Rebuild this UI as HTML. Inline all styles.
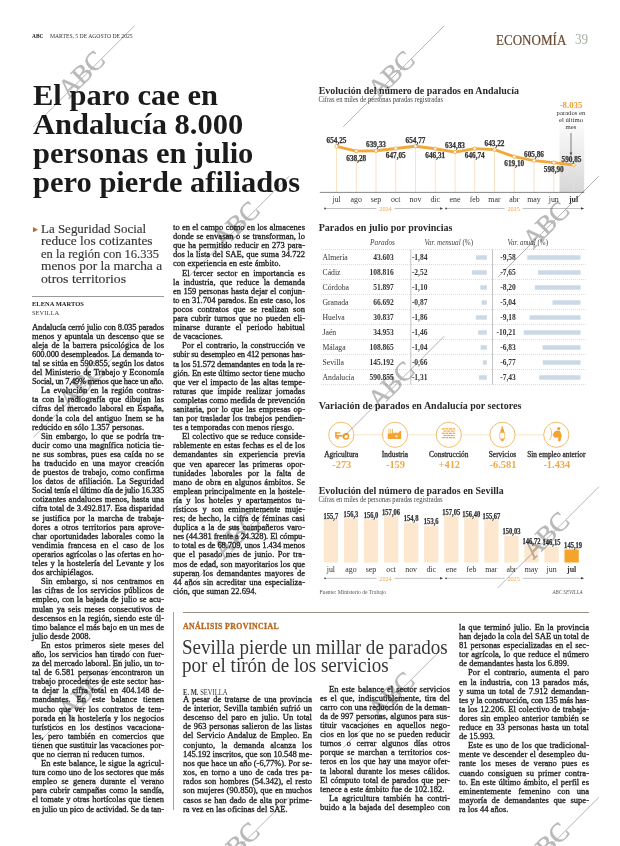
<!DOCTYPE html>
<html><head><meta charset="utf-8"><style>
html,body{margin:0;padding:0}
body{width:620px;height:846px;position:relative;overflow:hidden;background:#fff;font-family:"Liberation Serif",serif;color:#222}
.a{position:absolute;white-space:nowrap}
.col{position:absolute;font-family:"Liberation Serif",serif;color:#1e1e1e;transform-origin:0 0;-webkit-text-stroke:0.32px #1e1e1e}
.col div{white-space:nowrap;text-align:justify;text-align-last:justify;height:auto}
.col div.e{text-align-last:left}
.col div.i{text-indent:9.6px}
.hl{font-weight:bold;font-size:30px;color:#1b1b1b;transform-origin:0 0;transform:scaleX(1.017);line-height:28.95px}
.sub{font-size:13.3px;color:#353535;line-height:12.6px;-webkit-text-stroke:0.15px #353535}

</style></head><body>
<div class="a" style="left:32px;top:33px;font-size:6px;font-weight:bold;color:#222;transform-origin:0 0;transform:scaleX(0.9)">ABC</div>
<div class="a" style="left:50px;top:33px;font-size:6px;color:#333;transform-origin:0 0;transform:scaleX(0.94)">MARTES, 5 DE AGOSTO DE 2025</div>
<div class="a" style="left:495.5px;top:31.8px;font-size:14.5px;color:#694a30;transform-origin:0 0;transform:scaleX(0.9);-webkit-text-stroke:0.2px #694a30">ECONOMÍA</div>
<div class="a" style="left:574.8px;top:31.3px;font-size:14.7px;color:#a9b0a0;transform-origin:0 0;transform:scaleX(0.9)">39</div>

<div class="a hl" style="left:33px;top:81px">El paro cae en<br>Andalucía 8.000<br>personas en julio<br>pero pierde afiliados</div>

<svg class="a" style="left:32.6px;top:226.6px" width="5" height="5.4"><path d="M0,0 L5,2.7 L0,5.4 Z" fill="#b86f35"/></svg>
<div class="a sub" style="left:41.2px;top:222.51px;transform-origin:0 0;transform:scaleX(0.975)">La Seguridad Social</div>
<div class="a sub" style="left:41.2px;top:235.21px;transform-origin:0 0;transform:scaleX(1.0075)">reduce los cotizantes</div>
<div class="a sub" style="left:41.2px;top:247.91px;transform-origin:0 0;transform:scaleX(0.943)">en la región con 16.335</div>
<div class="a sub" style="left:41.2px;top:260.41px;transform-origin:0 0;transform:scaleX(1.006)">menos por la marcha a</div>
<div class="a sub" style="left:41.2px;top:272.81px;transform-origin:0 0;transform:scaleX(1.032)">otros territorios</div>
<div class="a" style="left:32px;top:296px;width:132px;height:1px;background:#9a9a9a"></div>
<div class="a" style="left:32px;top:300px;font-size:6.5px;font-weight:bold;color:#222;letter-spacing:0px">ELENA MARTOS</div>
<div class="a" style="left:32px;top:309px;font-size:6.5px;color:#444;letter-spacing:0px">SEVILLA</div>
<div class="col" style="left:32px;top:322.60px;width:138.95px;transform:scaleX(0.95);line-height:9.09px;font-size:9.0px">
<div style="letter-spacing:-0.157px">Andalucía cerró julio con 8.035 parados</div>
<div>menos y apuntala un descenso que se</div>
<div>aleja de la barrera psicológica de los</div>
<div style="letter-spacing:-0.128px">600.000 desempleados. La demanda to-</div>
<div style="letter-spacing:-0.035px">tal se sitúa en 590.855, según los datos</div>
<div>del Ministerio de Trabajo y Economía</div>
<div class="e" style="letter-spacing:-0.298px">Social, un 7,49% menos que hace un año.</div>
<div class="i">La evolución en la región contras-</div>
<div>ta con la radiografía que dibujan las</div>
<div>cifras del mercado laboral en España,</div>
<div>donde la cola del antiguo Inem se ha</div>
<div class="e">reducido en sólo 1.357 personas.</div>
<div class="i">Sin embargo, lo que se podría tra-</div>
<div>ducir como una magnífica noticia tie-</div>
<div>ne sus sombras, pues esa caída no se</div>
<div>ha traducido en una mayor creación</div>
<div>de puestos de trabajo, como confirma</div>
<div>los datos de afiliación. La Seguridad</div>
<div style="letter-spacing:-0.194px">Social tenía el último día de julio 16.335</div>
<div>cotizantes andaluces menos, hasta una</div>
<div style="letter-spacing:-0.066px">cifra total de 3.492.817. Esa disparidad</div>
<div>se justifica por la marcha de trabaja-</div>
<div>dores a otros territorios para aprove-</div>
<div>char oportunidades laborales como la</div>
<div>vendimia francesa en el caso de los</div>
<div style="letter-spacing:-0.015px">operarios agrícolas o las ofertas en ho-</div>
<div>teles y la hostelería del Levante y los</div>
<div class="e">dos archipiélagos.</div>
<div class="i">Sin embargo, si nos centramos en</div>
<div>las cifras de los servicios públicos de</div>
<div>empleo, con la bajada de julio se acu-</div>
<div>mulan ya seis meses consecutivos de</div>
<div>descensos en la región, siendo este úl-</div>
<div style="letter-spacing:-0.017px">timo balance el más bajo en un mes de</div>
<div class="e">julio desde 2008.</div>
<div class="i">En estos primeros siete meses del</div>
<div>año, los servicios han tirado con fuer-</div>
<div style="letter-spacing:-0.059px">za del mercado laboral. En julio, un to-</div>
<div>tal de 6.581 personas encontraron un</div>
<div>trabajo procedentes de este sector has-</div>
<div>ta dejar la cifra total en 404.148 de-</div>
<div>mandantes. En este balance tienen</div>
<div>mucho que ver los contratos de tem-</div>
<div>porada en la hostelería y los negocios</div>
<div>turísticos en los destinos vacaciona-</div>
<div>les, pero también en comercios que</div>
<div style="letter-spacing:-0.030px">tienen que sustituir las vacaciones por-</div>
<div class="e">que no cierran ni reducen turnos.</div>
<div class="i">En este balance, le sigue la agricul-</div>
<div style="letter-spacing:-0.010px">tura como uno de los sectores que más</div>
<div>empleo se genera durante el verano</div>
<div>para cubrir campañas como la sandía,</div>
<div>el tomate y otras hortícolas que tienen</div>
<div style="letter-spacing:-0.107px">en julio un pico de actividad. Se da tan-</div>
</div>
<div class="col" style="left:173px;top:223.10px;width:138.95px;transform:scaleX(0.95);line-height:9.1px;font-size:9.0px">
<div>to en el campo como en los almacenes</div>
<div>donde se envasan o se transforman, lo</div>
<div>que ha permitido reducir en 273 para-</div>
<div>dos la lista del SAE, que suma 34.722</div>
<div class="e">con experiencia en este ámbito.</div>
<div class="i">El tercer sector en importancia es</div>
<div>la industria, que reduce la demanda</div>
<div>en 159 personas hasta dejar el conjun-</div>
<div style="letter-spacing:-0.016px">to en 31.704 parados. En este caso, los</div>
<div>pocos contratos que se realizan son</div>
<div>para cubrir turnos que no pueden eli-</div>
<div>minarse durante el periodo habitual</div>
<div class="e">de vacaciones.</div>
<div class="i">Por el contrario, la construcción ve</div>
<div style="letter-spacing:-0.209px">subir su desempleo en 412 personas has-</div>
<div style="letter-spacing:-0.166px">ta los 51.572 demandantes en toda la re-</div>
<div style="letter-spacing:-0.112px">gión. En este último sector tiene mucho</div>
<div>que ver el impacto de las altas tempe-</div>
<div>raturas que impide realizar jornadas</div>
<div style="letter-spacing:-0.060px">completas como medida de prevención</div>
<div>sanitaria, por lo que las empresas op-</div>
<div>tan por trasladar los trabajos pendien-</div>
<div class="e">tes a temporadas con menos riesgo.</div>
<div class="i">El colectivo que se reduce conside-</div>
<div>rablemente en estas fechas es el de los</div>
<div>demandantes sin experiencia previa</div>
<div>que ven aparecer las primeras opor-</div>
<div>tunidades laborales por la falta de</div>
<div>mano de obra en algunos ámbitos. Se</div>
<div>emplean principalmente en la hostele-</div>
<div>ría y los hoteles y apartamentos tu-</div>
<div>rísticos y son eminentemente muje-</div>
<div>res; de hecho, la cifra de féminas casi</div>
<div>duplica a la de sus compañeros varo-</div>
<div style="letter-spacing:-0.138px">nes (44.381 frente a 24.328). El cómpu-</div>
<div style="letter-spacing:-0.106px">to total es de 68.709, unos 1.434 menos</div>
<div>que el pasado mes de junio. Por tra-</div>
<div>mos de edad, son mayoritarios los que</div>
<div>superan los demandantes mayores de</div>
<div>44 años sin acreditar una especializa-</div>
<div class="e">ción, que suman 22.694.</div>
</div>

<div class="a" style="left:173px;top:612px;width:1px;height:198px;background:#a0a0a0"></div>
<div class="a" style="left:182.5px;top:612px;width:406px;height:1px;background:#9a9088"></div>
<div class="a" style="left:183px;top:620.6px;font-size:9px;font-weight:bold;color:#b96a22;letter-spacing:0.4px;transform-origin:0 0;transform:scaleX(0.87);-webkit-text-stroke:0.35px #b96a22">ANÁLISIS PROVINCIAL</div>
<div class="a" style="left:182px;top:637.5px;font-size:21px;line-height:18.5px;color:#383838;transform-origin:0 0;transform:scaleX(0.906)">Sevilla pierde un millar de parados<br>por el tirón de los servicios</div>
<div class="a" style="left:183px;top:687.7px;font-size:8px;color:#333;transform-origin:0 0;transform:scaleX(0.82)"><b>E. M.</b> SEVILLA</div>
<div class="col" style="left:183px;top:694.70px;width:135.79px;transform:scaleX(0.95);line-height:9.17px;font-size:9.0px">
<div>A pesar de tratarse de una provincia</div>
<div>de interior, Sevilla también sufrió un</div>
<div>descenso del paro en julio. Un total</div>
<div>de 963 personas salieron de las listas</div>
<div>del Servicio Andaluz de Empleo. En</div>
<div>conjunto, la demanda alcanza los</div>
<div style="letter-spacing:-0.062px">145.192 inscritos, que son 10.548 me-</div>
<div style="letter-spacing:-0.055px">nos que hace un año (-6,77%). Por se-</div>
<div>xos, en torno a uno de cada tres pa-</div>
<div>rados son hombres (54.342), el resto</div>
<div>son mujeres (90.850), que en muchos</div>
<div>casos se han dado de alta por prime-</div>
<div class="e">ra vez en las oficinas del SAE.</div>
</div>
<div class="col" style="left:320px;top:684.70px;width:136.84px;transform:scaleX(0.95);line-height:9.09px;font-size:9.0px">
<div class="i">En este balance el sector servicios</div>
<div>es el que, indiscutiblemente, tira del</div>
<div>carro con una reducción de la deman-</div>
<div>da de 997 personas, algunos para sus-</div>
<div>tituir vacaciones en aquellos nego-</div>
<div>cios en los que no se pueden reducir</div>
<div>turnos o cerrar algunos días otros</div>
<div>porque se marchan a territorios cos-</div>
<div>teros en los que hay una mayor ofer-</div>
<div>ta laboral durante los meses cálidos.</div>
<div>El cómputo total de parados que per-</div>
<div class="e">tenece a este ámbito fue de 102.182.</div>
<div class="i">La agricultura también ha contri-</div>
<div>buido a la bajada del desempleo con</div>
</div>
<div class="col" style="left:459px;top:623.00px;width:136.84px;transform:scaleX(0.95);line-height:9.1px;font-size:9.0px">
<div>la que terminó julio. En la provincia</div>
<div style="letter-spacing:-0.045px">han dejado la cola del SAE un total de</div>
<div>81 personas especializadas en el sec-</div>
<div>tor agrícola, lo que reduce el número</div>
<div class="e">de demandantes hasta los 6.899.</div>
<div class="i">Por el contrario, aumenta el paro</div>
<div>en la industria, con 13 parados más,</div>
<div>y suma un total de 7.912 demandan-</div>
<div style="letter-spacing:-0.121px">tes y la construcción, con 135 más has-</div>
<div>ta los 12.206. El colectivo de trabaja-</div>
<div>dores sin empleo anterior también se</div>
<div>reduce en 33 personas hasta un total</div>
<div class="e">de 15.993.</div>
<div class="i">Este es uno de los que tradicional-</div>
<div>mente ve descender el desempleo du-</div>
<div>rante los meses de verano pues es</div>
<div>cuando consiguen su primer contra-</div>
<div>to. En este último ámbito, el perfil es</div>
<div>eminentemente femenino con una</div>
<div>mayoría de demandantes que supe-</div>
<div class="e">ra los 44 años.</div>
</div>

<svg class="a" style="left:0;top:0" width="620" height="846" viewBox="0 0 620 846">
<defs><linearGradient id="hg" x1="0" y1="0" x2="0" y2="1"><stop offset="0" stop-color="#ffffff"/><stop offset="0.3" stop-color="#fbfbfb"/><stop offset="0.6" stop-color="#ececec"/><stop offset="1" stop-color="#d6d6d6"/></linearGradient></defs>
<text x="318.7" y="94" font-family="Liberation Serif" font-weight="bold" font-size="10.2" fill="#2a2a2a" lengthAdjust="spacingAndGlyphs" textLength="200.3">Evolución del número de parados en Andalucía</text>
<text x="318.5" y="102.2" font-family="Liberation Serif" font-size="7.4" fill="#444" lengthAdjust="spacingAndGlyphs" textLength="124.5">Cifras en miles de personas paradas registradas</text>
<rect x="559.5" y="95" width="24.7" height="97.5" fill="url(#hg)"/>
<line x1="336.50" y1="146.40" x2="336.50" y2="192.4" stroke="#f7dcb4" stroke-width="0.8"/>
<line x1="356.25" y1="151.08" x2="356.25" y2="192.4" stroke="#f7dcb4" stroke-width="0.8"/>
<line x1="376.00" y1="150.77" x2="376.00" y2="192.4" stroke="#f7dcb4" stroke-width="0.8"/>
<line x1="395.75" y1="148.51" x2="395.75" y2="192.4" stroke="#f7dcb4" stroke-width="0.8"/>
<line x1="415.50" y1="146.25" x2="415.50" y2="192.4" stroke="#f7dcb4" stroke-width="0.8"/>
<line x1="435.25" y1="148.73" x2="435.25" y2="192.4" stroke="#f7dcb4" stroke-width="0.8"/>
<line x1="455.00" y1="152.09" x2="455.00" y2="192.4" stroke="#f7dcb4" stroke-width="0.8"/>
<line x1="474.75" y1="148.60" x2="474.75" y2="192.4" stroke="#f7dcb4" stroke-width="0.8"/>
<line x1="494.50" y1="149.63" x2="494.50" y2="192.4" stroke="#f7dcb4" stroke-width="0.8"/>
<line x1="514.25" y1="156.70" x2="514.25" y2="192.4" stroke="#f7dcb4" stroke-width="0.8"/>
<line x1="534.00" y1="160.58" x2="534.00" y2="192.4" stroke="#f7dcb4" stroke-width="0.8"/>
<line x1="553.75" y1="162.62" x2="553.75" y2="192.4" stroke="#f7dcb4" stroke-width="0.8"/>
<line x1="573.50" y1="164.98" x2="573.50" y2="192.4" stroke="#f7dcb4" stroke-width="0.8"/>
<line x1="319.8" y1="192.4" x2="584.2" y2="192.4" stroke="#7a7a7a" stroke-width="0.9"/>
<polyline points="336.50,146.40 356.25,151.08 376.00,150.77 395.75,148.51 415.50,146.25 435.25,148.73 455.00,152.09 474.75,148.60 494.50,149.63 514.25,156.70 534.00,160.58 553.75,162.62 573.50,164.98" fill="none" stroke="#f2a93b" stroke-width="2.9" stroke-linejoin="round"/>
<circle cx="336.50" cy="146.40" r="1.7" fill="#fff" stroke="#f2a93b" stroke-width="0.8"/>
<circle cx="356.25" cy="151.08" r="1.7" fill="#fff" stroke="#f2a93b" stroke-width="0.8"/>
<circle cx="376.00" cy="150.77" r="1.7" fill="#fff" stroke="#f2a93b" stroke-width="0.8"/>
<circle cx="395.75" cy="148.51" r="1.7" fill="#fff" stroke="#f2a93b" stroke-width="0.8"/>
<circle cx="415.50" cy="146.25" r="1.7" fill="#fff" stroke="#f2a93b" stroke-width="0.8"/>
<circle cx="435.25" cy="148.73" r="1.7" fill="#fff" stroke="#f2a93b" stroke-width="0.8"/>
<circle cx="455.00" cy="152.09" r="1.7" fill="#fff" stroke="#f2a93b" stroke-width="0.8"/>
<circle cx="474.75" cy="148.60" r="1.7" fill="#fff" stroke="#f2a93b" stroke-width="0.8"/>
<circle cx="494.50" cy="149.63" r="1.7" fill="#fff" stroke="#f2a93b" stroke-width="0.8"/>
<circle cx="514.25" cy="156.70" r="1.7" fill="#fff" stroke="#f2a93b" stroke-width="0.8"/>
<circle cx="534.00" cy="160.58" r="1.7" fill="#fff" stroke="#f2a93b" stroke-width="0.8"/>
<circle cx="553.75" cy="162.62" r="1.7" fill="#fff" stroke="#f2a93b" stroke-width="0.8"/>
<circle cx="573.50" cy="164.98" r="1.7" fill="#fff" stroke="#f2a93b" stroke-width="0.8"/>
<text x="326.50" y="142.80" font-family="Liberation Serif" font-weight="bold" font-size="7.6" fill="#333" stroke="#333" stroke-width="0.25" lengthAdjust="spacingAndGlyphs" textLength="20">654,25</text>
<text x="336.50" y="201.6" font-family="Liberation Serif" font-size="7.9" fill="#333" text-anchor="middle">jul</text>
<text x="346.25" y="160.68" font-family="Liberation Serif" font-weight="bold" font-size="7.6" fill="#333" stroke="#333" stroke-width="0.25" lengthAdjust="spacingAndGlyphs" textLength="20">638,28</text>
<text x="356.25" y="201.6" font-family="Liberation Serif" font-size="7.9" fill="#333" text-anchor="middle">ago</text>
<text x="366.00" y="147.17" font-family="Liberation Serif" font-weight="bold" font-size="7.6" fill="#333" stroke="#333" stroke-width="0.25" lengthAdjust="spacingAndGlyphs" textLength="20">639,33</text>
<text x="376.00" y="201.6" font-family="Liberation Serif" font-size="7.9" fill="#333" text-anchor="middle">sep</text>
<text x="385.75" y="158.11" font-family="Liberation Serif" font-weight="bold" font-size="7.6" fill="#333" stroke="#333" stroke-width="0.25" lengthAdjust="spacingAndGlyphs" textLength="20">647,05</text>
<text x="395.75" y="201.6" font-family="Liberation Serif" font-size="7.9" fill="#333" text-anchor="middle">oct</text>
<text x="405.50" y="142.65" font-family="Liberation Serif" font-weight="bold" font-size="7.6" fill="#333" stroke="#333" stroke-width="0.25" lengthAdjust="spacingAndGlyphs" textLength="20">654,77</text>
<text x="415.50" y="201.6" font-family="Liberation Serif" font-size="7.9" fill="#333" text-anchor="middle">nov</text>
<text x="425.25" y="158.33" font-family="Liberation Serif" font-weight="bold" font-size="7.6" fill="#333" stroke="#333" stroke-width="0.25" lengthAdjust="spacingAndGlyphs" textLength="20">646,31</text>
<text x="435.25" y="201.6" font-family="Liberation Serif" font-size="7.9" fill="#333" text-anchor="middle">dic</text>
<text x="445.00" y="148.49" font-family="Liberation Serif" font-weight="bold" font-size="7.6" fill="#333" stroke="#333" stroke-width="0.25" lengthAdjust="spacingAndGlyphs" textLength="20">634,83</text>
<text x="455.00" y="201.6" font-family="Liberation Serif" font-size="7.9" fill="#333" text-anchor="middle">ene</text>
<text x="464.75" y="158.20" font-family="Liberation Serif" font-weight="bold" font-size="7.6" fill="#333" stroke="#333" stroke-width="0.25" lengthAdjust="spacingAndGlyphs" textLength="20">646,74</text>
<text x="474.75" y="201.6" font-family="Liberation Serif" font-size="7.9" fill="#333" text-anchor="middle">feb</text>
<text x="484.50" y="146.03" font-family="Liberation Serif" font-weight="bold" font-size="7.6" fill="#333" stroke="#333" stroke-width="0.25" lengthAdjust="spacingAndGlyphs" textLength="20">643,22</text>
<text x="494.50" y="201.6" font-family="Liberation Serif" font-size="7.9" fill="#333" text-anchor="middle">mar</text>
<text x="504.25" y="166.30" font-family="Liberation Serif" font-weight="bold" font-size="7.6" fill="#333" stroke="#333" stroke-width="0.25" lengthAdjust="spacingAndGlyphs" textLength="20">619,10</text>
<text x="514.25" y="201.6" font-family="Liberation Serif" font-size="7.9" fill="#333" text-anchor="middle">abr</text>
<text x="524.00" y="156.98" font-family="Liberation Serif" font-weight="bold" font-size="7.6" fill="#333" stroke="#333" stroke-width="0.25" lengthAdjust="spacingAndGlyphs" textLength="20">605,86</text>
<text x="534.00" y="201.6" font-family="Liberation Serif" font-size="7.9" fill="#333" text-anchor="middle">may</text>
<text x="543.75" y="172.22" font-family="Liberation Serif" font-weight="bold" font-size="7.6" fill="#333" stroke="#333" stroke-width="0.25" lengthAdjust="spacingAndGlyphs" textLength="20">598,90</text>
<text x="553.75" y="201.6" font-family="Liberation Serif" font-size="7.9" fill="#333" text-anchor="middle">jun</text>
<text x="561.50" y="162.38" font-family="Liberation Serif" font-weight="bold" font-size="7.6" fill="#333" stroke="#333" stroke-width="0.25" lengthAdjust="spacingAndGlyphs" textLength="20">590,85</text>
<text x="573.50" y="201.6" font-family="Liberation Serif" font-size="7.9" fill="#333" text-anchor="middle" font-weight="bold">jul</text>
<line x1="325" y1="208.5" x2="442" y2="208.5" stroke="#8a8a8a" stroke-width="0.55"/>
<circle cx="325" cy="208.5" r="0.9" fill="#444"/>
<path d="M443.2,208.5 L440,207.2 L440,209.8 Z" fill="#444"/>
<rect x="376.5" y="205.5" width="18" height="6" fill="#fff"/>
<text x="385.5" y="210.7" font-family="Liberation Serif" font-size="6.2" fill="#f0a540" text-anchor="middle">2024</text>
<line x1="446" y1="208.5" x2="583" y2="208.5" stroke="#8a8a8a" stroke-width="0.55"/>
<circle cx="446" cy="208.5" r="0.9" fill="#444"/>
<path d="M584.2,208.5 L581,207.2 L581,209.8 Z" fill="#444"/>
<rect x="504.6" y="205.5" width="18" height="6" fill="#fff"/>
<text x="513.6" y="210.7" font-family="Liberation Serif" font-size="6.2" fill="#f0a540" text-anchor="middle">2025</text>
<text x="571" y="108.2" font-family="Liberation Serif" font-weight="bold" font-size="8.8" fill="#eea33a" text-anchor="middle">-8.035</text>
<text x="571" y="115.4" font-family="Liberation Serif" font-size="6.7" fill="#333" text-anchor="middle">parados en</text>
<text x="571" y="122.0" font-family="Liberation Serif" font-size="6.7" fill="#333" text-anchor="middle">el último</text>
<text x="571" y="128.6" font-family="Liberation Serif" font-size="6.7" fill="#333" text-anchor="middle">mes</text>
<line x1="571" y1="133" x2="571" y2="154" stroke="#555" stroke-width="0.75"/>
<path d="M571,156 L569.6,152.6 L572.4,152.6 Z" fill="#555"/>
<text x="318.7" y="230.6" font-family="Liberation Serif" font-weight="bold" font-size="10.2" fill="#2a2a2a" lengthAdjust="spacingAndGlyphs" textLength="133.8">Parados en julio por provincias</text>
<text x="370" y="245.2" font-family="Liberation Serif" font-style="italic" font-size="7.6" fill="#444" lengthAdjust="spacingAndGlyphs" textLength="25">Parados</text>
<text x="424.5" y="245.2" font-family="Liberation Serif" font-size="7.6" fill="#444" lengthAdjust="spacingAndGlyphs" textLength="48.5"><tspan font-style="italic">Var. mensual</tspan> (%)</text>
<text x="507.5" y="245.2" font-family="Liberation Serif" font-size="7.6" fill="#444" lengthAdjust="spacingAndGlyphs" textLength="40.5"><tspan font-style="italic">Var. anual</tspan> (%)</text>
<line x1="321" y1="249.5" x2="586" y2="249.5" stroke="#d6d6d6" stroke-width="0.8" stroke-dasharray="1,1"/>
<line x1="321" y1="264.5" x2="586" y2="264.5" stroke="#d6d6d6" stroke-width="0.8" stroke-dasharray="1,1"/>
<line x1="321" y1="279.5" x2="586" y2="279.5" stroke="#d6d6d6" stroke-width="0.8" stroke-dasharray="1,1"/>
<line x1="321" y1="294.5" x2="586" y2="294.5" stroke="#d6d6d6" stroke-width="0.8" stroke-dasharray="1,1"/>
<line x1="321" y1="309.5" x2="586" y2="309.5" stroke="#d6d6d6" stroke-width="0.8" stroke-dasharray="1,1"/>
<line x1="321" y1="324.5" x2="586" y2="324.5" stroke="#d6d6d6" stroke-width="0.8" stroke-dasharray="1,1"/>
<line x1="321" y1="339.5" x2="586" y2="339.5" stroke="#d6d6d6" stroke-width="0.8" stroke-dasharray="1,1"/>
<line x1="321" y1="354.5" x2="586" y2="354.5" stroke="#d6d6d6" stroke-width="0.8" stroke-dasharray="1,1"/>
<line x1="321" y1="369.5" x2="586" y2="369.5" stroke="#d6d6d6" stroke-width="0.8" stroke-dasharray="1,1"/>
<line x1="321" y1="384.5" x2="586" y2="384.5" stroke="#d6d6d6" stroke-width="0.8" stroke-dasharray="1,1"/>
<line x1="410.8" y1="249.5" x2="410.8" y2="384.5" stroke="#9a9a9a" stroke-width="0.6"/>
<line x1="492.5" y1="249.5" x2="492.5" y2="384.5" stroke="#9a9a9a" stroke-width="0.6"/>
<text x="322.5" y="260.1" font-family="Liberation Serif" font-size="7.7" fill="#333">Almería</text>
<text x="393.8" y="260.0" font-family="Liberation Serif" font-weight="bold" font-size="7.5" fill="#333" text-anchor="end">43.603</text>
<text x="427.5" y="260.0" font-family="Liberation Serif" font-weight="bold" font-size="7.5" fill="#333" text-anchor="end">-1,84</text>
<text x="515.8" y="260.0" font-family="Liberation Serif" font-weight="bold" font-size="7.5" fill="#333" text-anchor="end">-9,58</text>
<rect x="475.94" y="255.30" width="10.86" height="4.4" fill="#cbd8e6"/>
<rect x="527.24" y="255.30" width="53.26" height="4.4" fill="#cbd8e6"/>
<text x="322.5" y="275.1" font-family="Liberation Serif" font-size="7.7" fill="#333">Cádiz</text>
<text x="393.8" y="275.0" font-family="Liberation Serif" font-weight="bold" font-size="7.5" fill="#333" text-anchor="end">108.816</text>
<text x="427.5" y="275.0" font-family="Liberation Serif" font-weight="bold" font-size="7.5" fill="#333" text-anchor="end">-2,52</text>
<text x="515.8" y="275.0" font-family="Liberation Serif" font-weight="bold" font-size="7.5" fill="#333" text-anchor="end">-7,65</text>
<rect x="471.93" y="270.30" width="14.87" height="4.4" fill="#cbd8e6"/>
<rect x="537.97" y="270.30" width="42.53" height="4.4" fill="#cbd8e6"/>
<text x="322.5" y="290.1" font-family="Liberation Serif" font-size="7.7" fill="#333">Córdoba</text>
<text x="393.8" y="290.0" font-family="Liberation Serif" font-weight="bold" font-size="7.5" fill="#333" text-anchor="end">51.897</text>
<text x="427.5" y="290.0" font-family="Liberation Serif" font-weight="bold" font-size="7.5" fill="#333" text-anchor="end">-1,10</text>
<text x="515.8" y="290.0" font-family="Liberation Serif" font-weight="bold" font-size="7.5" fill="#333" text-anchor="end">-8,20</text>
<rect x="480.31" y="285.30" width="6.49" height="4.4" fill="#cbd8e6"/>
<rect x="534.91" y="285.30" width="45.59" height="4.4" fill="#cbd8e6"/>
<text x="322.5" y="305.1" font-family="Liberation Serif" font-size="7.7" fill="#333">Granada</text>
<text x="393.8" y="305.0" font-family="Liberation Serif" font-weight="bold" font-size="7.5" fill="#333" text-anchor="end">66.692</text>
<text x="427.5" y="305.0" font-family="Liberation Serif" font-weight="bold" font-size="7.5" fill="#333" text-anchor="end">-0,87</text>
<text x="515.8" y="305.0" font-family="Liberation Serif" font-weight="bold" font-size="7.5" fill="#333" text-anchor="end">-5,04</text>
<rect x="481.67" y="300.30" width="5.13" height="4.4" fill="#cbd8e6"/>
<rect x="552.48" y="300.30" width="28.02" height="4.4" fill="#cbd8e6"/>
<text x="322.5" y="320.1" font-family="Liberation Serif" font-size="7.7" fill="#333">Huelva</text>
<text x="393.8" y="320.0" font-family="Liberation Serif" font-weight="bold" font-size="7.5" fill="#333" text-anchor="end">30.837</text>
<text x="427.5" y="320.0" font-family="Liberation Serif" font-weight="bold" font-size="7.5" fill="#333" text-anchor="end">-1,86</text>
<text x="515.8" y="320.0" font-family="Liberation Serif" font-weight="bold" font-size="7.5" fill="#333" text-anchor="end">-9,18</text>
<rect x="475.83" y="315.30" width="10.97" height="4.4" fill="#cbd8e6"/>
<rect x="529.46" y="315.30" width="51.04" height="4.4" fill="#cbd8e6"/>
<text x="322.5" y="335.1" font-family="Liberation Serif" font-size="7.7" fill="#333">Jaén</text>
<text x="393.8" y="335.0" font-family="Liberation Serif" font-weight="bold" font-size="7.5" fill="#333" text-anchor="end">34.953</text>
<text x="427.5" y="335.0" font-family="Liberation Serif" font-weight="bold" font-size="7.5" fill="#333" text-anchor="end">-1,46</text>
<text x="515.8" y="335.0" font-family="Liberation Serif" font-weight="bold" font-size="7.5" fill="#333" text-anchor="end">-10,21</text>
<rect x="478.19" y="330.30" width="8.61" height="4.4" fill="#cbd8e6"/>
<rect x="523.73" y="330.30" width="56.77" height="4.4" fill="#cbd8e6"/>
<text x="322.5" y="350.1" font-family="Liberation Serif" font-size="7.7" fill="#333">Málaga</text>
<text x="393.8" y="350.0" font-family="Liberation Serif" font-weight="bold" font-size="7.5" fill="#333" text-anchor="end">108.865</text>
<text x="427.5" y="350.0" font-family="Liberation Serif" font-weight="bold" font-size="7.5" fill="#333" text-anchor="end">-1,04</text>
<text x="515.8" y="350.0" font-family="Liberation Serif" font-weight="bold" font-size="7.5" fill="#333" text-anchor="end">-6,83</text>
<rect x="480.66" y="345.30" width="6.14" height="4.4" fill="#cbd8e6"/>
<rect x="542.53" y="345.30" width="37.97" height="4.4" fill="#cbd8e6"/>
<text x="322.5" y="365.1" font-family="Liberation Serif" font-size="7.7" fill="#333">Sevilla</text>
<text x="393.8" y="365.0" font-family="Liberation Serif" font-weight="bold" font-size="7.5" fill="#333" text-anchor="end">145.192</text>
<text x="427.5" y="365.0" font-family="Liberation Serif" font-weight="bold" font-size="7.5" fill="#333" text-anchor="end">-0,66</text>
<text x="515.8" y="365.0" font-family="Liberation Serif" font-weight="bold" font-size="7.5" fill="#333" text-anchor="end">-6,77</text>
<rect x="482.91" y="360.30" width="3.89" height="4.4" fill="#cbd8e6"/>
<rect x="542.86" y="360.30" width="37.64" height="4.4" fill="#cbd8e6"/>
<text x="322.5" y="380.1" font-family="Liberation Serif" font-size="7.7" fill="#333">Andalucía</text>
<text x="393.8" y="380.0" font-family="Liberation Serif" font-weight="bold" font-size="7.5" fill="#333" text-anchor="end">590.855</text>
<text x="427.5" y="380.0" font-family="Liberation Serif" font-weight="bold" font-size="7.5" fill="#333" text-anchor="end">-1,31</text>
<text x="515.8" y="380.0" font-family="Liberation Serif" font-weight="bold" font-size="7.5" fill="#333" text-anchor="end">-7,43</text>
<rect x="479.07" y="375.30" width="7.73" height="4.4" fill="#cbd8e6"/>
<rect x="539.19" y="375.30" width="41.31" height="4.4" fill="#cbd8e6"/>
<text x="318.7" y="409.4" font-family="Liberation Serif" font-weight="bold" font-size="10.2" fill="#2a2a2a" lengthAdjust="spacingAndGlyphs" textLength="202.6">Variación de parados en Andalucía por sectores</text>
<line x1="341.3" y1="434.8" x2="556.3" y2="434.8" stroke="#f6dcb6" stroke-width="0.8"/>
<circle cx="341.3" cy="434.8" r="12.6" fill="#fff" stroke="#f2b964" stroke-width="0.95"/>
<text x="341.3" y="457.2" font-family="Liberation Serif" font-size="7.4" fill="#333" stroke="#333" stroke-width="0.32" text-anchor="middle">Agricultura</text>
<text x="341.8" y="468" font-family="Liberation Serif" font-weight="bold" font-size="10.4" fill="#f2a844" text-anchor="middle">-273</text>
<circle cx="395" cy="434.8" r="12.6" fill="#fff" stroke="#f2b964" stroke-width="0.95"/>
<text x="395" y="457.2" font-family="Liberation Serif" font-size="7.4" fill="#333" stroke="#333" stroke-width="0.32" text-anchor="middle">Industria</text>
<text x="395.5" y="468" font-family="Liberation Serif" font-weight="bold" font-size="10.4" fill="#f2a844" text-anchor="middle">-159</text>
<circle cx="448.8" cy="434.8" r="12.6" fill="#fff" stroke="#f2b964" stroke-width="0.95"/>
<text x="448.8" y="457.2" font-family="Liberation Serif" font-size="7.4" fill="#333" stroke="#333" stroke-width="0.32" text-anchor="middle">Construcción</text>
<text x="449.3" y="468" font-family="Liberation Serif" font-weight="bold" font-size="10.4" fill="#f2a844" text-anchor="middle">+412</text>
<circle cx="502.5" cy="434.8" r="12.6" fill="#fff" stroke="#f2b964" stroke-width="0.95"/>
<text x="502.5" y="457.2" font-family="Liberation Serif" font-size="7.4" fill="#333" stroke="#333" stroke-width="0.32" text-anchor="middle">Servicios</text>
<text x="503.0" y="468" font-family="Liberation Serif" font-weight="bold" font-size="10.4" fill="#f2a844" text-anchor="middle">-6.581</text>
<circle cx="556.3" cy="434.8" r="12.6" fill="#fff" stroke="#f2b964" stroke-width="0.95"/>
<text x="556.3" y="457.2" font-family="Liberation Serif" font-size="7.4" fill="#333" stroke="#333" stroke-width="0.32" text-anchor="middle">Sin empleo anterior</text>
<text x="556.8" y="468" font-family="Liberation Serif" font-weight="bold" font-size="10.4" fill="#f2a844" text-anchor="middle">-1.434</text>
<g fill="#f2a432"><rect x="335.2" y="432.2" width="5.2" height="1.3"/><rect x="335.2" y="432.2" width="1.5" height="5.6"/><rect x="335.2" y="434.9" width="7.6" height="1.8"/><circle cx="337.6" cy="437.9" r="1.3"/></g><circle cx="346" cy="436.4" r="2.5" fill="none" stroke="#f2a432" stroke-width="1.6"/><g fill="#f2a432"><rect x="388.6" y="428.8" width="0.7" height="5"/><rect x="390.4" y="428.8" width="0.7" height="5"/><rect x="392.2" y="428.8" width="0.7" height="5"/><path d="M387.8,439 L387.8,433.6 L391,433.6 L393.5,432 L393.5,433.6 L396.5,432 L396.5,433.6 L399.5,432 L399.5,431 L401.2,431 L401.2,439 Z"/></g><circle cx="396.5" cy="436.3" r="1.3" fill="#fff" fill-opacity="0.6"/><g fill="#f2a432"><rect x="441.80" y="428.30" width="3.00" height="1.15"/><rect x="445.40" y="428.30" width="3.00" height="1.15"/><rect x="449.00" y="428.30" width="3.00" height="1.15"/><rect x="452.60" y="428.30" width="2.60" height="1.15"/><rect x="443.50" y="430.50" width="3.00" height="1.15"/><rect x="447.10" y="430.50" width="3.00" height="1.15"/><rect x="450.70" y="430.50" width="3.00" height="1.15"/><rect x="454.30" y="430.50" width="0.90" height="1.15"/><rect x="441.80" y="432.70" width="3.00" height="1.15"/><rect x="445.40" y="432.70" width="3.00" height="1.15"/><rect x="449.00" y="432.70" width="3.00" height="1.15"/><rect x="452.60" y="432.70" width="2.60" height="1.15"/><rect x="443.50" y="434.90" width="3.00" height="1.15"/><rect x="447.10" y="434.90" width="3.00" height="1.15"/><rect x="450.70" y="434.90" width="3.00" height="1.15"/><rect x="454.30" y="434.90" width="0.90" height="1.15"/><rect x="441.80" y="437.10" width="3.00" height="1.15"/><rect x="445.40" y="437.10" width="3.00" height="1.15"/><rect x="449.00" y="437.10" width="3.00" height="1.15"/><rect x="452.60" y="437.10" width="2.60" height="1.15"/></g><path d="M500.2,432.6 L500.8,429.2 L501.6,428.4 L501.6,426.6 L503,426.6 L503,428.4 L503.8,429.2 L504.4,432.6 Z" fill="#f2a432"/><rect x="499.8" y="432.8" width="5" height="6" fill="none" stroke="#f2a432" stroke-width="0.6"/><path d="M500.6,438.9 L504,438.9 L503.4,441.2 L501.2,441.2 Z" fill="#f2a432"/><g transform="translate(-1.6,0)"><circle cx="560.4" cy="428.6" r="1.6" fill="#f2a432"/><path d="M556.2,431.4 L558.6,430.4 L561.6,430.8 L563.4,435.6 L562,441.2 L559.6,441.2 L560,437.4 L556.2,437.8 L554.2,435 Z" fill="#f2a432"/><path d="M551.6,427.6 Q555.2,433.6 551.2,440" fill="none" stroke="#f2a432" stroke-width="0.7"/></g>
<text x="318.7" y="494" font-family="Liberation Serif" font-weight="bold" font-size="10.2" fill="#2a2a2a" lengthAdjust="spacingAndGlyphs" textLength="185">Evolución del número de parados en Sevilla</text>
<text x="318.5" y="501.9" font-family="Liberation Serif" font-size="7.4" fill="#444" lengthAdjust="spacingAndGlyphs" textLength="124">Cifras en miles de personas paradas registradas</text>
<rect x="323.75" y="520.07" width="14.3" height="42.43" fill="#fde8cf"/>
<text x="323.55" y="518.57" font-family="Liberation Serif" font-weight="bold" font-size="7.7" fill="#333" stroke="#333" stroke-width="0.25" lengthAdjust="spacingAndGlyphs" textLength="14.7">155,7</text>
<text x="330.90" y="572.3" font-family="Liberation Serif" font-size="7.9" fill="#333" text-anchor="middle">jul</text>
<rect x="343.81" y="518.39" width="14.3" height="44.11" fill="#fde8cf"/>
<text x="343.61" y="516.89" font-family="Liberation Serif" font-weight="bold" font-size="7.7" fill="#333" stroke="#333" stroke-width="0.25" lengthAdjust="spacingAndGlyphs" textLength="14.7">156,3</text>
<text x="350.96" y="572.3" font-family="Liberation Serif" font-size="7.9" fill="#333" text-anchor="middle">ago</text>
<rect x="363.87" y="519.23" width="14.3" height="43.27" fill="#fde8cf"/>
<text x="363.67" y="517.73" font-family="Liberation Serif" font-weight="bold" font-size="7.7" fill="#333" stroke="#333" stroke-width="0.25" lengthAdjust="spacingAndGlyphs" textLength="14.7">156,0</text>
<text x="371.02" y="572.3" font-family="Liberation Serif" font-size="7.9" fill="#333" text-anchor="middle">sep</text>
<rect x="383.93" y="516.26" width="14.3" height="46.24" fill="#fde8cf"/>
<text x="382.08" y="514.76" font-family="Liberation Serif" font-weight="bold" font-size="7.7" fill="#333" stroke="#333" stroke-width="0.25" lengthAdjust="spacingAndGlyphs" textLength="18">157,06</text>
<text x="391.08" y="572.3" font-family="Liberation Serif" font-size="7.9" fill="#333" text-anchor="middle">oct</text>
<rect x="403.99" y="522.59" width="14.3" height="39.91" fill="#fde8cf"/>
<text x="403.79" y="521.09" font-family="Liberation Serif" font-weight="bold" font-size="7.7" fill="#333" stroke="#333" stroke-width="0.25" lengthAdjust="spacingAndGlyphs" textLength="14.7">154,8</text>
<text x="411.14" y="572.3" font-family="Liberation Serif" font-size="7.9" fill="#333" text-anchor="middle">nov</text>
<rect x="424.05" y="525.95" width="14.3" height="36.55" fill="#fde8cf"/>
<text x="423.85" y="524.45" font-family="Liberation Serif" font-weight="bold" font-size="7.7" fill="#333" stroke="#333" stroke-width="0.25" lengthAdjust="spacingAndGlyphs" textLength="14.7">153,6</text>
<text x="431.20" y="572.3" font-family="Liberation Serif" font-size="7.9" fill="#333" text-anchor="middle">dic</text>
<rect x="444.11" y="516.29" width="14.3" height="46.21" fill="#fde8cf"/>
<text x="442.26" y="514.79" font-family="Liberation Serif" font-weight="bold" font-size="7.7" fill="#333" stroke="#333" stroke-width="0.25" lengthAdjust="spacingAndGlyphs" textLength="18">157,05</text>
<text x="451.26" y="572.3" font-family="Liberation Serif" font-size="7.9" fill="#333" text-anchor="middle">ene</text>
<rect x="464.17" y="518.11" width="14.3" height="44.39" fill="#fde8cf"/>
<text x="462.32" y="516.61" font-family="Liberation Serif" font-weight="bold" font-size="7.7" fill="#333" stroke="#333" stroke-width="0.25" lengthAdjust="spacingAndGlyphs" textLength="18">156,40</text>
<text x="471.32" y="572.3" font-family="Liberation Serif" font-size="7.9" fill="#333" text-anchor="middle">feb</text>
<rect x="484.23" y="520.16" width="14.3" height="42.34" fill="#fde8cf"/>
<text x="482.38" y="518.66" font-family="Liberation Serif" font-weight="bold" font-size="7.7" fill="#333" stroke="#333" stroke-width="0.25" lengthAdjust="spacingAndGlyphs" textLength="18">155,67</text>
<text x="491.38" y="572.3" font-family="Liberation Serif" font-size="7.9" fill="#333" text-anchor="middle">mar</text>
<rect x="504.29" y="535.95" width="14.3" height="26.55" fill="#fde8cf"/>
<text x="502.44" y="534.45" font-family="Liberation Serif" font-weight="bold" font-size="7.7" fill="#333" stroke="#333" stroke-width="0.25" lengthAdjust="spacingAndGlyphs" textLength="18">150,03</text>
<text x="511.44" y="572.3" font-family="Liberation Serif" font-size="7.9" fill="#333" text-anchor="middle">abr</text>
<rect x="524.35" y="545.22" width="14.3" height="17.28" fill="#fde8cf"/>
<text x="522.50" y="543.72" font-family="Liberation Serif" font-weight="bold" font-size="7.7" fill="#333" stroke="#333" stroke-width="0.25" lengthAdjust="spacingAndGlyphs" textLength="18">146,72</text>
<text x="531.50" y="572.3" font-family="Liberation Serif" font-size="7.9" fill="#333" text-anchor="middle">may</text>
<rect x="544.41" y="546.81" width="14.3" height="15.69" fill="#fde8cf"/>
<text x="542.56" y="545.31" font-family="Liberation Serif" font-weight="bold" font-size="7.7" fill="#333" stroke="#333" stroke-width="0.25" lengthAdjust="spacingAndGlyphs" textLength="18">146,15</text>
<text x="551.56" y="572.3" font-family="Liberation Serif" font-size="7.9" fill="#333" text-anchor="middle">jun</text>
<rect x="564.47" y="549.50" width="14.3" height="13.00" fill="#f5a42a"/>
<text x="564.12" y="548.00" font-family="Liberation Serif" font-weight="bold" font-size="7.7" fill="#333" stroke="#333" stroke-width="0.25" lengthAdjust="spacingAndGlyphs" textLength="18">145,19</text>
<text x="571.62" y="572.3" font-family="Liberation Serif" font-size="7.9" fill="#333" text-anchor="middle" font-weight="bold">jul</text>
<line x1="325" y1="578.3" x2="442" y2="578.3" stroke="#8a8a8a" stroke-width="0.55"/>
<circle cx="325" cy="578.3" r="0.9" fill="#444"/>
<path d="M443.2,578.3 L440,577.0 L440,579.5999999999999 Z" fill="#444"/>
<rect x="376.5" y="575.3" width="18" height="6" fill="#fff"/>
<text x="385.5" y="580.5" font-family="Liberation Serif" font-size="6.2" fill="#f0a540" text-anchor="middle">2024</text>
<line x1="446" y1="578.3" x2="583" y2="578.3" stroke="#8a8a8a" stroke-width="0.55"/>
<circle cx="446" cy="578.3" r="0.9" fill="#444"/>
<path d="M584.2,578.3 L581,577.0 L581,579.5999999999999 Z" fill="#444"/>
<rect x="504.6" y="575.3" width="18" height="6" fill="#fff"/>
<text x="513.6" y="580.5" font-family="Liberation Serif" font-size="6.2" fill="#f0a540" text-anchor="middle">2025</text>
<text x="319.5" y="593.8" font-family="Liberation Serif" font-size="6.6" fill="#555" lengthAdjust="spacingAndGlyphs" textLength="66.5">Fuente: Ministerio de Trabajo</text>
<text x="552.5" y="593.8" font-family="Liberation Serif" font-style="italic" font-size="6.6" fill="#555" lengthAdjust="spacingAndGlyphs" textLength="30">ABC SEVILLA</text>
</svg>
<svg class="a" style="left:0;top:0;mix-blend-mode:multiply" width="620" height="846" viewBox="0 0 620 846">
<g transform="translate(84.0,76.3) rotate(-45)"><line x1="-71.5" y1="0" x2="71.5" y2="0" stroke="#a8a8a8" stroke-width="0.8"/><text x="-27" y="5.5" font-family="Liberation Serif" font-size="26.5" letter-spacing="-0.6" fill="#b8b8b8" stroke="#b8b8b8" stroke-width="0.45">ABC</text></g>
<g transform="translate(238.7,226.6) rotate(-45)"><line x1="-71.5" y1="0" x2="71.5" y2="0" stroke="#a8a8a8" stroke-width="0.8"/><text x="-27" y="5.5" font-family="Liberation Serif" font-size="26.5" letter-spacing="-0.6" fill="#b8b8b8" stroke="#b8b8b8" stroke-width="0.45">ABC</text></g>
<g transform="translate(393.75,76.3) rotate(-45)"><line x1="-71.5" y1="0" x2="71.5" y2="0" stroke="#a8a8a8" stroke-width="0.8"/><text x="-27" y="5.5" font-family="Liberation Serif" font-size="26.5" letter-spacing="-0.6" fill="#b8b8b8" stroke="#b8b8b8" stroke-width="0.45">ABC</text></g>
<g transform="translate(548.45,226.6) rotate(-45)"><line x1="-71.5" y1="0" x2="71.5" y2="0" stroke="#a8a8a8" stroke-width="0.8"/><text x="-27" y="5.5" font-family="Liberation Serif" font-size="26.5" letter-spacing="-0.6" fill="#b8b8b8" stroke="#b8b8b8" stroke-width="0.45">ABC</text></g>
<g transform="translate(84.0,386.7) rotate(-45)"><line x1="-71.5" y1="0" x2="71.5" y2="0" stroke="#a8a8a8" stroke-width="0.8"/><text x="-27" y="5.5" font-family="Liberation Serif" font-size="26.5" letter-spacing="-0.6" fill="#b8b8b8" stroke="#b8b8b8" stroke-width="0.45">ABC</text></g>
<g transform="translate(238.7,537.2) rotate(-45)"><line x1="-71.5" y1="0" x2="71.5" y2="0" stroke="#a8a8a8" stroke-width="0.8"/><text x="-27" y="5.5" font-family="Liberation Serif" font-size="26.5" letter-spacing="-0.6" fill="#b8b8b8" stroke="#b8b8b8" stroke-width="0.45">ABC</text></g>
<g transform="translate(393.75,386.7) rotate(-45)"><line x1="-71.5" y1="0" x2="71.5" y2="0" stroke="#a8a8a8" stroke-width="0.8"/><text x="-27" y="5.5" font-family="Liberation Serif" font-size="26.5" letter-spacing="-0.6" fill="#b8b8b8" stroke="#b8b8b8" stroke-width="0.45">ABC</text></g>
<g transform="translate(548.45,537.2) rotate(-45)"><line x1="-71.5" y1="0" x2="71.5" y2="0" stroke="#a8a8a8" stroke-width="0.8"/><text x="-27" y="5.5" font-family="Liberation Serif" font-size="26.5" letter-spacing="-0.6" fill="#b8b8b8" stroke="#b8b8b8" stroke-width="0.45">ABC</text></g>
<g transform="translate(84.0,697.0999999999999) rotate(-45)"><line x1="-71.5" y1="0" x2="71.5" y2="0" stroke="#a8a8a8" stroke-width="0.8"/><text x="-27" y="5.5" font-family="Liberation Serif" font-size="26.5" letter-spacing="-0.6" fill="#b8b8b8" stroke="#b8b8b8" stroke-width="0.45">ABC</text></g>
<g transform="translate(238.7,847.8000000000001) rotate(-45)"><line x1="-71.5" y1="0" x2="71.5" y2="0" stroke="#a8a8a8" stroke-width="0.8"/><text x="-27" y="5.5" font-family="Liberation Serif" font-size="26.5" letter-spacing="-0.6" fill="#b8b8b8" stroke="#b8b8b8" stroke-width="0.45">ABC</text></g>
<g transform="translate(393.75,697.0999999999999) rotate(-45)"><line x1="-71.5" y1="0" x2="71.5" y2="0" stroke="#a8a8a8" stroke-width="0.8"/><text x="-27" y="5.5" font-family="Liberation Serif" font-size="26.5" letter-spacing="-0.6" fill="#b8b8b8" stroke="#b8b8b8" stroke-width="0.45">ABC</text></g>
<g transform="translate(548.45,847.8000000000001) rotate(-45)"><line x1="-71.5" y1="0" x2="71.5" y2="0" stroke="#a8a8a8" stroke-width="0.8"/><text x="-27" y="5.5" font-family="Liberation Serif" font-size="26.5" letter-spacing="-0.6" fill="#b8b8b8" stroke="#b8b8b8" stroke-width="0.45">ABC</text></g>
</svg>
</body></html>
